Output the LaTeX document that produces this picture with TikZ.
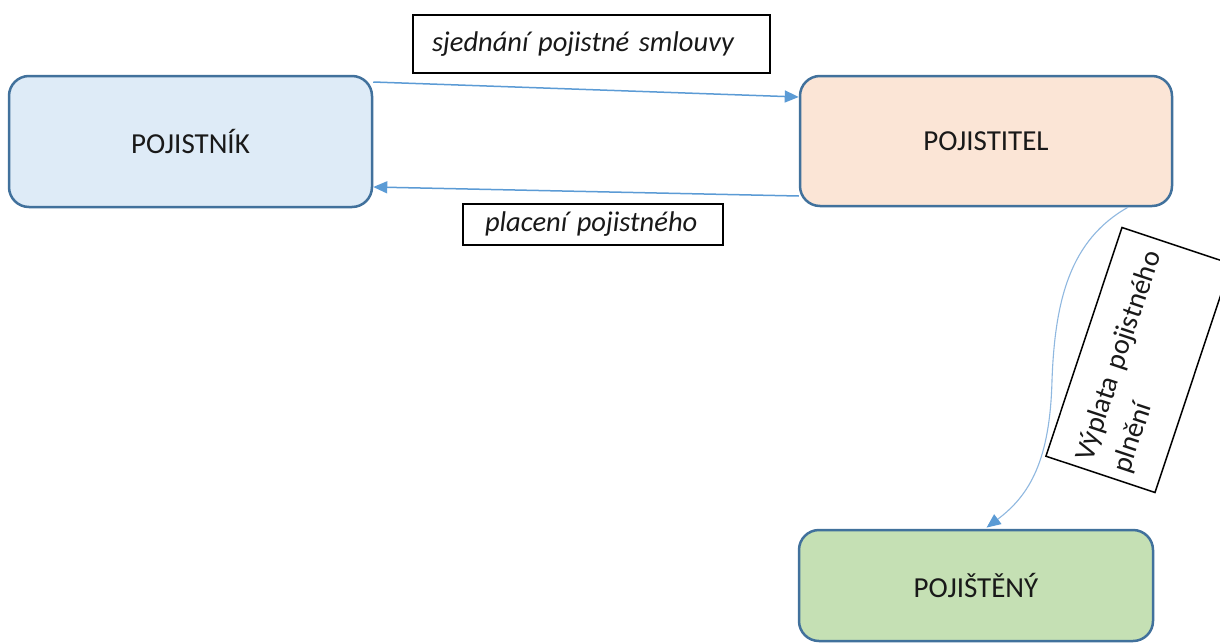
\documentclass[tikz,border=0pt]{standalone}
\usepackage{fontspec}
\setmainfont{Carlito}
\usetikzlibrary{arrows.meta,calc}
\definecolor{bluefill}{HTML}{DEEBF7}
\definecolor{orangefill}{HTML}{FBE5D6}
\definecolor{greenfill}{HTML}{C5E0B4}
\definecolor{boxline}{HTML}{41719C}
\definecolor{arrowc}{HTML}{5B9BD5}
\definecolor{curvec}{HTML}{8FB8E0}
\begin{document}
\begin{tikzpicture}[x=1pt,y=-1pt,
  entity/.style={draw=boxline, line width=2.5pt, rounded corners=20pt, inner sep=0pt,
    font=\fontsize{29}{35}\selectfont, text=black!90},
  lbl/.style={draw=black, line width=1.5pt, fill=white, inner sep=0pt, align=left,
    font=\fontsize{28.5}{34}\selectfont\itshape, text=black!90},
  flow/.style={draw=arrowc, line width=1.5pt, -{Triangle[length=14pt,width=12pt]}},
  curveflow/.style={draw=curvec, line width=1.1pt, -{Triangle[length=14pt,width=12pt,fill=arrowc,color=arrowc]}}
]
\useasboundingbox (0,0) rectangle (1220,643);
\clip (0,0) rectangle (1220,643);
\fill[white] (0,0) rectangle (1220,643);

\node[entity, fill=bluefill, minimum width=363pt, minimum height=131pt] (pn) at (190.5,141.5) {POJISTNÍK};
\node[entity, fill=orangefill, minimum width=372pt, minimum height=130pt] (pt) at (986,141) {POJISTITEL};
\node[entity, fill=greenfill, minimum width=354pt, minimum height=111pt] (pz) at (976,585.5) {\raisebox{-3pt}{POJIŠTĚNÝ}};

\node[lbl, minimum width=357pt, minimum height=58pt, text width=319pt] (l1) at (591.5,44) {sjednání pojistné smlouvy};
\node[lbl, minimum width=260pt, minimum height=41pt, text width=216pt] (l2) at (593,224.5) {placení pojistného};
\node[lbl, font=\fontsize{28.5}{39}\selectfont, rotate=71.6, minimum width=241pt, minimum height=115pt, text width=223pt] (l3) at (1138.5,360) {Výplata pojistného\\plnění};

\draw[flow] (pn.east |- 0,82) -- (pt.west |- 0,97);
\draw[flow] (pt.west |- 0,196) -- (pn.east |- 0,187);
\draw[curveflow, shorten >=2pt] (pt.south -| 1128,0) .. controls (1070,240) and (1055,300) .. (1052,380)
  .. controls (1050,460) and (1030,495) .. (pz.north -| 985,0);
\end{tikzpicture}
\end{document}
